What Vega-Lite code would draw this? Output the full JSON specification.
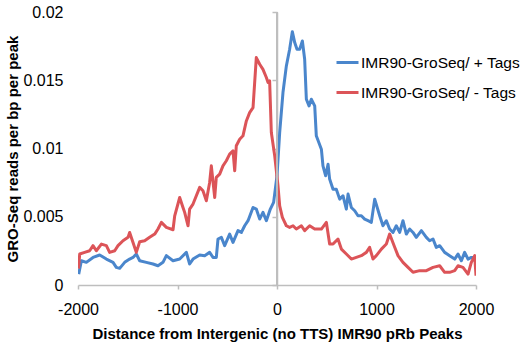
{
  "$schema": "https://vega.github.io/schema/vega-lite/v6.json",
  "autosize": "none",
  "width": 398,
  "height": 273,
  "padding": {"left": 78, "top": 12, "right": 56, "bottom": 61},
  "config": {"view": {"stroke": null}, "font": "Liberation Sans"},
  "data": {"values": [
    {"s":"IMR90-GroSeq/ + Tags","x":-1993,"y":0.0008},
    {"s":"IMR90-GroSeq/ + Tags","x":-1966,"y":0.00178},
    {"s":"IMR90-GroSeq/ + Tags","x":-1916,"y":0.00166},
    {"s":"IMR90-GroSeq/ + Tags","x":-1849,"y":0.00202},
    {"s":"IMR90-GroSeq/ + Tags","x":-1782,"y":0.0022},
    {"s":"IMR90-GroSeq/ + Tags","x":-1715,"y":0.0019},
    {"s":"IMR90-GroSeq/ + Tags","x":-1648,"y":0.00166},
    {"s":"IMR90-GroSeq/ + Tags","x":-1615,"y":0.00129},
    {"s":"IMR90-GroSeq/ + Tags","x":-1581,"y":0.00122},
    {"s":"IMR90-GroSeq/ + Tags","x":-1531,"y":0.00166},
    {"s":"IMR90-GroSeq/ + Tags","x":-1481,"y":0.0019},
    {"s":"IMR90-GroSeq/ + Tags","x":-1447,"y":0.00202},
    {"s":"IMR90-GroSeq/ + Tags","x":-1414,"y":0.00227},
    {"s":"IMR90-GroSeq/ + Tags","x":-1380,"y":0.00178},
    {"s":"IMR90-GroSeq/ + Tags","x":-1313,"y":0.00166},
    {"s":"IMR90-GroSeq/ + Tags","x":-1246,"y":0.00154},
    {"s":"IMR90-GroSeq/ + Tags","x":-1196,"y":0.00141},
    {"s":"IMR90-GroSeq/ + Tags","x":-1146,"y":0.00166},
    {"s":"IMR90-GroSeq/ + Tags","x":-1112,"y":0.00215},
    {"s":"IMR90-GroSeq/ + Tags","x":-1045,"y":0.00178},
    {"s":"IMR90-GroSeq/ + Tags","x":-978,"y":0.0019},
    {"s":"IMR90-GroSeq/ + Tags","x":-911,"y":0.00239},
    {"s":"IMR90-GroSeq/ + Tags","x":-878,"y":0.00154},
    {"s":"IMR90-GroSeq/ + Tags","x":-844,"y":0.0019},
    {"s":"IMR90-GroSeq/ + Tags","x":-777,"y":0.0022},
    {"s":"IMR90-GroSeq/ + Tags","x":-727,"y":0.00215},
    {"s":"IMR90-GroSeq/ + Tags","x":-677,"y":0.00239},
    {"s":"IMR90-GroSeq/ + Tags","x":-643,"y":0.00202},
    {"s":"IMR90-GroSeq/ + Tags","x":-610,"y":0.00202},
    {"s":"IMR90-GroSeq/ + Tags","x":-593,"y":0.00337},
    {"s":"IMR90-GroSeq/ + Tags","x":-559,"y":0.00349},
    {"s":"IMR90-GroSeq/ + Tags","x":-526,"y":0.00288},
    {"s":"IMR90-GroSeq/ + Tags","x":-476,"y":0.00373},
    {"s":"IMR90-GroSeq/ + Tags","x":-442,"y":0.00312},
    {"s":"IMR90-GroSeq/ + Tags","x":-392,"y":0.00398},
    {"s":"IMR90-GroSeq/ + Tags","x":-358,"y":0.00385},
    {"s":"IMR90-GroSeq/ + Tags","x":-325,"y":0.00434},
    {"s":"IMR90-GroSeq/ + Tags","x":-291,"y":0.00471},
    {"s":"IMR90-GroSeq/ + Tags","x":-241,"y":0.00568},
    {"s":"IMR90-GroSeq/ + Tags","x":-208,"y":0.00556},
    {"s":"IMR90-GroSeq/ + Tags","x":-174,"y":0.00483},
    {"s":"IMR90-GroSeq/ + Tags","x":-141,"y":0.00532},
    {"s":"IMR90-GroSeq/ + Tags","x":-107,"y":0.00471},
    {"s":"IMR90-GroSeq/ + Tags","x":-67,"y":0.00556},
    {"s":"IMR90-GroSeq/ + Tags","x":-34,"y":0.00605},
    {"s":"IMR90-GroSeq/ + Tags","x":0,"y":0.008},
    {"s":"IMR90-GroSeq/ + Tags","x":27,"y":0.01117},
    {"s":"IMR90-GroSeq/ + Tags","x":60,"y":0.0141},
    {"s":"IMR90-GroSeq/ + Tags","x":94,"y":0.01605},
    {"s":"IMR90-GroSeq/ + Tags","x":127,"y":0.01727},
    {"s":"IMR90-GroSeq/ + Tags","x":154,"y":0.01856},
    {"s":"IMR90-GroSeq/ + Tags","x":178,"y":0.01776},
    {"s":"IMR90-GroSeq/ + Tags","x":201,"y":0.01727},
    {"s":"IMR90-GroSeq/ + Tags","x":228,"y":0.01727},
    {"s":"IMR90-GroSeq/ + Tags","x":255,"y":0.01788},
    {"s":"IMR90-GroSeq/ + Tags","x":278,"y":0.01654},
    {"s":"IMR90-GroSeq/ + Tags","x":295,"y":0.01361},
    {"s":"IMR90-GroSeq/ + Tags","x":322,"y":0.01312},
    {"s":"IMR90-GroSeq/ + Tags","x":345,"y":0.01361},
    {"s":"IMR90-GroSeq/ + Tags","x":379,"y":0.01312},
    {"s":"IMR90-GroSeq/ + Tags","x":395,"y":0.01093},
    {"s":"IMR90-GroSeq/ + Tags","x":446,"y":0.00995},
    {"s":"IMR90-GroSeq/ + Tags","x":462,"y":0.00873},
    {"s":"IMR90-GroSeq/ + Tags","x":489,"y":0.008},
    {"s":"IMR90-GroSeq/ + Tags","x":513,"y":0.00885},
    {"s":"IMR90-GroSeq/ + Tags","x":529,"y":0.00776},
    {"s":"IMR90-GroSeq/ + Tags","x":563,"y":0.00702},
    {"s":"IMR90-GroSeq/ + Tags","x":596,"y":0.00702},
    {"s":"IMR90-GroSeq/ + Tags","x":630,"y":0.00629},
    {"s":"IMR90-GroSeq/ + Tags","x":663,"y":0.00654},
    {"s":"IMR90-GroSeq/ + Tags","x":697,"y":0.00556},
    {"s":"IMR90-GroSeq/ + Tags","x":714,"y":0.00666},
    {"s":"IMR90-GroSeq/ + Tags","x":747,"y":0.00568},
    {"s":"IMR90-GroSeq/ + Tags","x":781,"y":0.00544},
    {"s":"IMR90-GroSeq/ + Tags","x":814,"y":0.00507},
    {"s":"IMR90-GroSeq/ + Tags","x":848,"y":0.00507},
    {"s":"IMR90-GroSeq/ + Tags","x":881,"y":0.00483},
    {"s":"IMR90-GroSeq/ + Tags","x":915,"y":0.00471},
    {"s":"IMR90-GroSeq/ + Tags","x":948,"y":0.00459},
    {"s":"IMR90-GroSeq/ + Tags","x":982,"y":0.00629},
    {"s":"IMR90-GroSeq/ + Tags","x":1032,"y":0.00507},
    {"s":"IMR90-GroSeq/ + Tags","x":1065,"y":0.00434},
    {"s":"IMR90-GroSeq/ + Tags","x":1099,"y":0.00471},
    {"s":"IMR90-GroSeq/ + Tags","x":1132,"y":0.0041},
    {"s":"IMR90-GroSeq/ + Tags","x":1166,"y":0.00385},
    {"s":"IMR90-GroSeq/ + Tags","x":1199,"y":0.00434},
    {"s":"IMR90-GroSeq/ + Tags","x":1233,"y":0.00385},
    {"s":"IMR90-GroSeq/ + Tags","x":1266,"y":0.00471},
    {"s":"IMR90-GroSeq/ + Tags","x":1300,"y":0.00373},
    {"s":"IMR90-GroSeq/ + Tags","x":1333,"y":0.0041},
    {"s":"IMR90-GroSeq/ + Tags","x":1367,"y":0.00385},
    {"s":"IMR90-GroSeq/ + Tags","x":1400,"y":0.00349},
    {"s":"IMR90-GroSeq/ + Tags","x":1451,"y":0.00398},
    {"s":"IMR90-GroSeq/ + Tags","x":1501,"y":0.00349},
    {"s":"IMR90-GroSeq/ + Tags","x":1534,"y":0.00324},
    {"s":"IMR90-GroSeq/ + Tags","x":1568,"y":0.00337},
    {"s":"IMR90-GroSeq/ + Tags","x":1601,"y":0.00276},
    {"s":"IMR90-GroSeq/ + Tags","x":1635,"y":0.00288},
    {"s":"IMR90-GroSeq/ + Tags","x":1685,"y":0.00239},
    {"s":"IMR90-GroSeq/ + Tags","x":1735,"y":0.00215},
    {"s":"IMR90-GroSeq/ + Tags","x":1786,"y":0.0019},
    {"s":"IMR90-GroSeq/ + Tags","x":1819,"y":0.00227},
    {"s":"IMR90-GroSeq/ + Tags","x":1853,"y":0.00178},
    {"s":"IMR90-GroSeq/ + Tags","x":1886,"y":0.00239},
    {"s":"IMR90-GroSeq/ + Tags","x":1920,"y":0.0019},
    {"s":"IMR90-GroSeq/ + Tags","x":1953,"y":0.00202},
    {"s":"IMR90-GroSeq/ + Tags","x":1987,"y":0.00202},
    {"s":"IMR90-GroSeq/ - Tags","x":-1995,"y":0.0012},
    {"s":"IMR90-GroSeq/ - Tags","x":-1983,"y":0.00227},
    {"s":"IMR90-GroSeq/ - Tags","x":-1933,"y":0.00239},
    {"s":"IMR90-GroSeq/ - Tags","x":-1883,"y":0.00251},
    {"s":"IMR90-GroSeq/ - Tags","x":-1849,"y":0.00288},
    {"s":"IMR90-GroSeq/ - Tags","x":-1816,"y":0.00251},
    {"s":"IMR90-GroSeq/ - Tags","x":-1765,"y":0.003},
    {"s":"IMR90-GroSeq/ - Tags","x":-1715,"y":0.00288},
    {"s":"IMR90-GroSeq/ - Tags","x":-1682,"y":0.00239},
    {"s":"IMR90-GroSeq/ - Tags","x":-1631,"y":0.00251},
    {"s":"IMR90-GroSeq/ - Tags","x":-1598,"y":0.00288},
    {"s":"IMR90-GroSeq/ - Tags","x":-1548,"y":0.00324},
    {"s":"IMR90-GroSeq/ - Tags","x":-1497,"y":0.00349},
    {"s":"IMR90-GroSeq/ - Tags","x":-1481,"y":0.00385},
    {"s":"IMR90-GroSeq/ - Tags","x":-1447,"y":0.00312},
    {"s":"IMR90-GroSeq/ - Tags","x":-1414,"y":0.00239},
    {"s":"IMR90-GroSeq/ - Tags","x":-1380,"y":0.00317},
    {"s":"IMR90-GroSeq/ - Tags","x":-1330,"y":0.00324},
    {"s":"IMR90-GroSeq/ - Tags","x":-1280,"y":0.00349},
    {"s":"IMR90-GroSeq/ - Tags","x":-1229,"y":0.00373},
    {"s":"IMR90-GroSeq/ - Tags","x":-1196,"y":0.0041},
    {"s":"IMR90-GroSeq/ - Tags","x":-1162,"y":0.00459},
    {"s":"IMR90-GroSeq/ - Tags","x":-1112,"y":0.00422},
    {"s":"IMR90-GroSeq/ - Tags","x":-1045,"y":0.00405},
    {"s":"IMR90-GroSeq/ - Tags","x":-1028,"y":0.00507},
    {"s":"IMR90-GroSeq/ - Tags","x":-978,"y":0.00641},
    {"s":"IMR90-GroSeq/ - Tags","x":-945,"y":0.00568},
    {"s":"IMR90-GroSeq/ - Tags","x":-928,"y":0.00532},
    {"s":"IMR90-GroSeq/ - Tags","x":-894,"y":0.00434},
    {"s":"IMR90-GroSeq/ - Tags","x":-878,"y":0.00556},
    {"s":"IMR90-GroSeq/ - Tags","x":-844,"y":0.00593},
    {"s":"IMR90-GroSeq/ - Tags","x":-777,"y":0.00715},
    {"s":"IMR90-GroSeq/ - Tags","x":-744,"y":0.0069},
    {"s":"IMR90-GroSeq/ - Tags","x":-710,"y":0.00617},
    {"s":"IMR90-GroSeq/ - Tags","x":-677,"y":0.00751},
    {"s":"IMR90-GroSeq/ - Tags","x":-660,"y":0.00873},
    {"s":"IMR90-GroSeq/ - Tags","x":-626,"y":0.00641},
    {"s":"IMR90-GroSeq/ - Tags","x":-610,"y":0.00788},
    {"s":"IMR90-GroSeq/ - Tags","x":-576,"y":0.00812},
    {"s":"IMR90-GroSeq/ - Tags","x":-543,"y":0.00873},
    {"s":"IMR90-GroSeq/ - Tags","x":-509,"y":0.0091},
    {"s":"IMR90-GroSeq/ - Tags","x":-476,"y":0.00959},
    {"s":"IMR90-GroSeq/ - Tags","x":-442,"y":0.00983},
    {"s":"IMR90-GroSeq/ - Tags","x":-425,"y":0.00837},
    {"s":"IMR90-GroSeq/ - Tags","x":-409,"y":0.0102},
    {"s":"IMR90-GroSeq/ - Tags","x":-375,"y":0.01068},
    {"s":"IMR90-GroSeq/ - Tags","x":-342,"y":0.01093},
    {"s":"IMR90-GroSeq/ - Tags","x":-308,"y":0.01202},
    {"s":"IMR90-GroSeq/ - Tags","x":-275,"y":0.01263},
    {"s":"IMR90-GroSeq/ - Tags","x":-241,"y":0.013},
    {"s":"IMR90-GroSeq/ - Tags","x":-208,"y":0.01666},
    {"s":"IMR90-GroSeq/ - Tags","x":-174,"y":0.01617},
    {"s":"IMR90-GroSeq/ - Tags","x":-141,"y":0.0158},
    {"s":"IMR90-GroSeq/ - Tags","x":-107,"y":0.0152},
    {"s":"IMR90-GroSeq/ - Tags","x":-90,"y":0.01483},
    {"s":"IMR90-GroSeq/ - Tags","x":-74,"y":0.01495},
    {"s":"IMR90-GroSeq/ - Tags","x":-57,"y":0.01117},
    {"s":"IMR90-GroSeq/ - Tags","x":-23,"y":0.00946},
    {"s":"IMR90-GroSeq/ - Tags","x":10,"y":0.00727},
    {"s":"IMR90-GroSeq/ - Tags","x":27,"y":0.0058},
    {"s":"IMR90-GroSeq/ - Tags","x":54,"y":0.00495},
    {"s":"IMR90-GroSeq/ - Tags","x":94,"y":0.00434},
    {"s":"IMR90-GroSeq/ - Tags","x":127,"y":0.00422},
    {"s":"IMR90-GroSeq/ - Tags","x":161,"y":0.00434},
    {"s":"IMR90-GroSeq/ - Tags","x":194,"y":0.0041},
    {"s":"IMR90-GroSeq/ - Tags","x":245,"y":0.00434},
    {"s":"IMR90-GroSeq/ - Tags","x":278,"y":0.00398},
    {"s":"IMR90-GroSeq/ - Tags","x":328,"y":0.00434},
    {"s":"IMR90-GroSeq/ - Tags","x":379,"y":0.0041},
    {"s":"IMR90-GroSeq/ - Tags","x":446,"y":0.0041},
    {"s":"IMR90-GroSeq/ - Tags","x":496,"y":0.00459},
    {"s":"IMR90-GroSeq/ - Tags","x":529,"y":0.003},
    {"s":"IMR90-GroSeq/ - Tags","x":563,"y":0.003},
    {"s":"IMR90-GroSeq/ - Tags","x":613,"y":0.00337},
    {"s":"IMR90-GroSeq/ - Tags","x":647,"y":0.00263},
    {"s":"IMR90-GroSeq/ - Tags","x":697,"y":0.00227},
    {"s":"IMR90-GroSeq/ - Tags","x":747,"y":0.0019},
    {"s":"IMR90-GroSeq/ - Tags","x":797,"y":0.00202},
    {"s":"IMR90-GroSeq/ - Tags","x":848,"y":0.00215},
    {"s":"IMR90-GroSeq/ - Tags","x":898,"y":0.00239},
    {"s":"IMR90-GroSeq/ - Tags","x":931,"y":0.00276},
    {"s":"IMR90-GroSeq/ - Tags","x":965,"y":0.0019},
    {"s":"IMR90-GroSeq/ - Tags","x":998,"y":0.00215},
    {"s":"IMR90-GroSeq/ - Tags","x":1049,"y":0.00263},
    {"s":"IMR90-GroSeq/ - Tags","x":1099,"y":0.003},
    {"s":"IMR90-GroSeq/ - Tags","x":1132,"y":0.00373},
    {"s":"IMR90-GroSeq/ - Tags","x":1183,"y":0.00276},
    {"s":"IMR90-GroSeq/ - Tags","x":1216,"y":0.00215},
    {"s":"IMR90-GroSeq/ - Tags","x":1266,"y":0.00166},
    {"s":"IMR90-GroSeq/ - Tags","x":1317,"y":0.00129},
    {"s":"IMR90-GroSeq/ - Tags","x":1367,"y":0.00093},
    {"s":"IMR90-GroSeq/ - Tags","x":1434,"y":0.00105},
    {"s":"IMR90-GroSeq/ - Tags","x":1501,"y":0.00105},
    {"s":"IMR90-GroSeq/ - Tags","x":1568,"y":0.00129},
    {"s":"IMR90-GroSeq/ - Tags","x":1635,"y":0.00141},
    {"s":"IMR90-GroSeq/ - Tags","x":1685,"y":0.00093},
    {"s":"IMR90-GroSeq/ - Tags","x":1735,"y":0.00093},
    {"s":"IMR90-GroSeq/ - Tags","x":1786,"y":0.00105},
    {"s":"IMR90-GroSeq/ - Tags","x":1819,"y":0.00141},
    {"s":"IMR90-GroSeq/ - Tags","x":1869,"y":0.00129},
    {"s":"IMR90-GroSeq/ - Tags","x":1920,"y":0.0008},
    {"s":"IMR90-GroSeq/ - Tags","x":1953,"y":0.00166},
    {"s":"IMR90-GroSeq/ - Tags","x":1987,"y":0.00215},
    {"s":"IMR90-GroSeq/ - Tags","x":2000,"y":0.00068}
  ]},
  "layer": [
    {
      "mark": {"type": "line", "strokeWidth": 3, "strokeJoin": "round", "clip": true},
      "encoding": {
        "x": {"field": "x", "type": "quantitative",
          "scale": {"domain": [-2000, 2000], "nice": false},
          "axis": {"values": [-2000, -1000, 0, 1000, 2000], "labelExpr": "datum.value + ''", "labelFlush": false, "grid": false,
            "domainColor": "#BEBEBE", "domainWidth": 1.5, "tickColor": "#BEBEBE", "tickWidth": 1.5, "tickSize": 4,
            "labelFontSize": 16, "labelColor": "#000000", "labelPadding": 12,
            "title": "Distance from Intergenic (no TTS) IMR90 pRb Peaks",
            "titleFontSize": 15, "titleFontWeight": "bold", "titleColor": "#000000", "titlePadding": 9}},
        "y": {"field": "y", "type": "quantitative",
          "scale": {"domain": [0, 0.02], "nice": false},
          "axis": {"values": [0, 0.005, 0.01, 0.015, 0.02], "grid": false, "domain": false, "ticks": false, "tickSize": 0,
            "labelFontSize": 16, "labelColor": "#000000", "labelPadding": 15, "labelFlush": false,
            "labelExpr": "datum.value == 0 ? '0' : format(datum.value, '~g')",
            "title": "GRO-Seq reads per bp per peak",
            "titleFontSize": 15, "titleFontWeight": "bold", "titleColor": "#000000", "titlePadding": 2}},
        "color": {"field": "s", "type": "nominal",
          "scale": {"domain": ["IMR90-GroSeq/ + Tags", "IMR90-GroSeq/ - Tags"], "range": ["#4A86CC", "#DC5458"]},
          "legend": {"title": null, "orient": "none", "legendX": 257, "legendY": 38, "padding": 0,
            "symbolType": "stroke", "symbolSize": 484, "symbolStrokeWidth": 3,
            "labelFontSize": 15.5, "labelColor": "#000000", "labelOffset": 1, "rowPadding": 9}}
      }
    },
    {
      "mark": {"type": "rule", "color": "#BEBEBE", "strokeWidth": 1.5},
      "encoding": {
        "x": {"datum": 0},
        "y": {"datum": 0, "type": "quantitative",
          "axis": {"orient": "left", "offset": -199, "values": [0, 0.005, 0.01, 0.015, 0.02], "labels": false, "grid": false,
            "domain": true, "domainColor": "#BEBEBE", "domainWidth": 1.5, "ticks": true, "tickSize": 5, "tickColor": "#BEBEBE", "tickWidth": 1.5, "title": null}},
        "y2": {"datum": 0.02}
      }
    }
  ],
  "resolve": {"axis": {"y": "independent"}}
}
